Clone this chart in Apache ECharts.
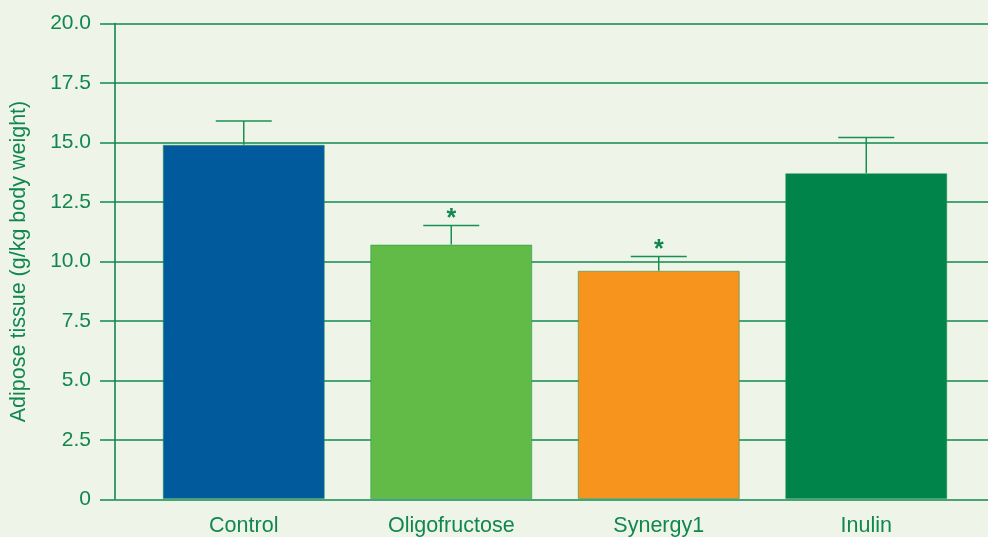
<!DOCTYPE html>
<html>
<head>
<meta charset="utf-8">
<script src="https://cdn.jsdelivr.net/npm/echarts@6/dist/echarts.min.js"></script>
<style>
html,body{margin:0;padding:0;background:#eef5e8;}
#chart{width:988px;height:537px;}
</style>
</head>
<body>
<div id="chart"></div>
<script>
var categories = ['Control', 'Oligofructose', 'Synergy1', 'Inulin'];
var means = [14.9, 10.7, 9.6, 13.7];
var errorTops = [15.9, 11.5, 10.2, 15.2];
var significance = ['', '*', '*', ''];
var barColors = ['#005a9c', '#62bb47', '#f7941d', '#00844a'];
var yTicks = [0, 2.5, 5, 7.5, 10, 12.5, 15, 17.5, 20];

var green = '#11874f';
var font = 'Liberation Sans, Arial, sans-serif';

var chart = echarts.init(document.getElementById('chart'));

var option = {
  backgroundColor: '#eef5e8',
  animation: false,
  grid: [
    {left: 97, right: 0, top: 23.5, bottom: 37.5},
    {left: 140, right: 18, top: 23.5, bottom: 37.5}
  ],
  xAxis: [
    {gridIndex: 0, type: 'category', data: categories, show: false},
    {gridIndex: 1, type: 'category', data: categories,
     axisLine: {show: false}, axisTick: {show: false},
     axisLabel: {color: green, fontSize: 21.5, fontFamily: font, margin: 16}}
  ],
  yAxis: [
    {gridIndex: 0, type: 'value', min: yTicks[0], max: yTicks[yTicks.length - 1], interval: 2.5,
     axisLine: {show: false}, axisTick: {show: false},
     splitLine: {show: true, lineStyle: {color: green, width: 1.6}},
     axisLabel: {color: green, fontSize: 21, fontFamily: font, margin: 9,
       formatter: function (v) { return v === 0 ? '0' : v.toFixed(1); }},
     name: 'Adipose tissue (g/kg body weight)', nameLocation: 'middle', nameGap: 70,
     nameTextStyle: {color: green, fontSize: 21.5, fontFamily: font}},
    {gridIndex: 1, type: 'value', min: yTicks[0], max: yTicks[yTicks.length - 1], interval: 2.5, offset: 25,
     axisLine: {show: true, lineStyle: {color: green, width: 1.6}},
     axisTick: {show: false}, axisLabel: {show: false}, splitLine: {show: false}}
  ],
  series: [
    {
      type: 'bar', xAxisIndex: 1, yAxisIndex: 1, barWidth: 162,
      data: means.map(function (v, i) {
        return {value: v, itemStyle: {color: barColors[i]}};
      }),
      itemStyle: {borderColor: 'rgba(30,150,80,0.55)', borderWidth: 1},
      z: 3
    },
    {
      type: 'custom', xAxisIndex: 1, yAxisIndex: 1, z: 5,
      data: categories.map(function (c, i) { return [i, means[i], errorTops[i]]; }),
      renderItem: function (params, api) {
        var i = api.value(0);
        var base = api.coord([i, api.value(1)]);
        var top = api.coord([i, api.value(2)]);
        var half = 28;
        var children = [
          {type: 'line', shape: {x1: base[0], y1: base[1], x2: top[0], y2: top[1]},
           style: {stroke: '#1a8f55', lineWidth: 1.5}},
          {type: 'line', shape: {x1: top[0] - half, y1: top[1], x2: top[0] + half, y2: top[1]},
           style: {stroke: '#1a8f55', lineWidth: 1.5}}
        ];
        var s = significance[params.dataIndex];
        if (s) {
          children.push({type: 'text', style: {text: s, x: top[0], y: top[1] - 6,
            textAlign: 'center', textVerticalAlign: 'middle',
            fill: green, fontSize: 25, fontFamily: font, fontWeight: 'bold'}});
        }
        return {type: 'group', children: children};
      }
    }
  ]
};
chart.setOption(option);
</script>
</body>
</html>
